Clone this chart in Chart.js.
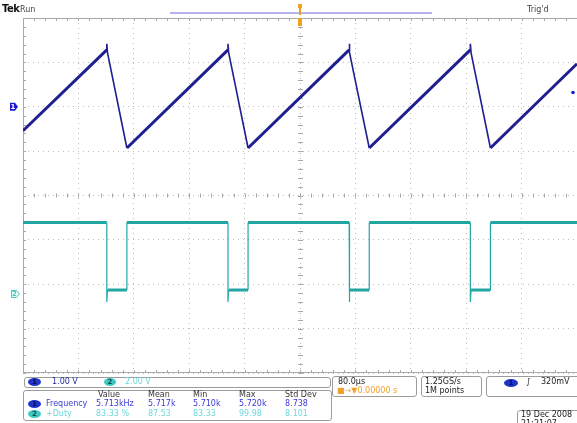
<!DOCTYPE html>
<html>
<head>
<meta charset="utf-8">
<script src="https://cdn.jsdelivr.net/npm/chart.js@4/dist/chart.umd.min.js"></script>
<style>
  html, body { margin: 0; padding: 0; background: #fff; }
  #wrap { position: relative; width: 577px; height: 423px; overflow: hidden;
          font-family: "DejaVu Sans", sans-serif; font-size: 8px; color: #333; }
  #scope { position: absolute; left: 0; top: 0; }
  .t { position: absolute; white-space: nowrap; line-height: 10px; }
  .box { position: absolute; border: 1px solid #9c9c9c; border-radius: 3px; box-sizing: border-box; }
  .ov { position: absolute; border-radius: 50%; font-size: 7px; line-height: 8px; text-align: center; font-weight: bold; }
  .c1 { background: #1d35c8; color: #0a0a60; }
  .c2 { background: #3ec8c4; color: #0b5050; }
</style>
</head>
<body>
<div id="wrap">
  <canvas id="scope" width="577" height="423"></canvas>

  <!-- status line -->
  <div class="t" style="left:2px;top:4px;font-size:10px;font-weight:bold;color:#111;letter-spacing:-0.5px">Tek</div>
  <div class="t" style="left:20px;top:5px;color:#444">Run</div>
  <div class="t" style="left:527px;top:5px;color:#444">Trig'd</div>

  <!-- vertical scale readout -->
  <div class="box" style="left:24px;top:377px;width:307px;height:11px"></div>
  <div class="ov c1" style="left:28px;top:378px;width:13px;height:8px">1</div>
  <div class="t" style="left:52px;top:377px;color:#1f2a9c">1.00 V</div>
  <div class="ov c2" style="left:104px;top:378px;width:12px;height:8px">2</div>
  <div class="t" style="left:125px;top:377px;color:#6fd6d6">2.00 V</div>

  <!-- measurement table -->
  <div class="box" style="left:23px;top:390px;width:309px;height:31px"></div>
  <div class="t" style="left:98px;top:390px">Value</div>
  <div class="t" style="left:148px;top:390px">Mean</div>
  <div class="t" style="left:193px;top:390px">Min</div>
  <div class="t" style="left:239px;top:390px">Max</div>
  <div class="t" style="left:285px;top:390px">Std Dev</div>

  <div class="ov c1" style="left:28px;top:400px;width:13px;height:8px">1</div>
  <div class="t" style="left:46px;top:399px;color:#3a3ad6">Frequency</div>
  <div class="t" style="left:96px;top:399px;color:#3a3ad6">5.713kHz</div>
  <div class="t" style="left:148px;top:399px;color:#3a3ad6">5.717k</div>
  <div class="t" style="left:193px;top:399px;color:#3a3ad6">5.710k</div>
  <div class="t" style="left:239px;top:399px;color:#3a3ad6">5.720k</div>
  <div class="t" style="left:285px;top:399px;color:#3a3ad6">8.738</div>

  <div class="ov c2" style="left:28px;top:410px;width:13px;height:8px">2</div>
  <div class="t" style="left:46px;top:409px;color:#6ed8dc">+Duty</div>
  <div class="t" style="left:96px;top:409px;color:#6ed8dc">83.33 %</div>
  <div class="t" style="left:148px;top:409px;color:#6ed8dc">87.53</div>
  <div class="t" style="left:193px;top:409px;color:#6ed8dc">83.33</div>
  <div class="t" style="left:239px;top:409px;color:#6ed8dc">99.98</div>
  <div class="t" style="left:285px;top:409px;color:#6ed8dc">8.101</div>

  <!-- horizontal / acquisition / trigger readouts -->
  <div class="box" style="left:332px;top:376px;width:85px;height:21px"></div>
  <div class="t" style="left:338px;top:377px;color:#222">80.0µs</div>
  <div class="t" style="left:337px;top:386px;color:#f0a028">&#9632;&#8594;&#9660;0.00000 s</div>

  <div class="box" style="left:421px;top:376px;width:61px;height:21px"></div>
  <div class="t" style="left:425px;top:377px;color:#222">1.25GS/s</div>
  <div class="t" style="left:425px;top:386px;color:#222">1M points</div>

  <div class="box" style="left:486px;top:376px;width:100px;height:21px"></div>
  <div class="ov c1" style="left:504px;top:379px;width:14px;height:8px">1</div>
  <div class="t" style="left:526px;top:377px;color:#222;font-style:italic">&#8747;</div>
  <div class="t" style="left:541px;top:377px;color:#222">320mV</div>

  <div class="box" style="left:517px;top:410px;width:70px;height:22px"></div>
  <div class="t" style="left:521px;top:410px;color:#222">19 Dec 2008</div>
  <div class="t" style="left:521px;top:419px;color:#222">21:21:07</div>
</div>

<script>
// Horizontal: 80 µs/div, 10 divisions, trigger at centre.
const timeMin = -400, timeMax = 400, timePerDiv = 80;

// CH1 (1.00 V/div): sawtooth corner points, time in µs, level in V.
const ch1Time  = [-400, -279, -279, -278, -250, -104, -104, -103, -75,
                  71, 71, 72, 100, 246, 246, 247, 275, 400];
const ch1Volts = [-0.54, 1.28, 1.42, 1.22, -0.93, 1.28, 1.42, 1.22, -0.93,
                  1.28, 1.42, 1.22, -0.93, 1.28, 1.42, 1.22, -0.93, 0.97];

// CH2 (2.00 V/div): gate pulse corner points.
const ch2Time  = [-400, -279, -279, -278, -250, -250, -104, -104, -103, -75, -75,
                  71, 71, 72, 100, 100, 246, 246, 247, 275, 275, 400];
const ch2Volts = [3.22, 3.22, -0.36, 0.18, 0.18, 3.22, 3.22, -0.36, 0.18, 0.18, 3.22,
                  3.22, -0.36, 0.18, 0.18, 3.22, 3.22, -0.36, 0.18, 0.18, 3.22, 3.22];

// Vertical windows: 8 divisions each, offsets put each ground marker in place.
const ch1Range = [-6, 2];
const ch2Range = [-3.56, 12.44];
const trigLevel = 0.32;

const pts = (xs, ys) => xs.map((x, i) => ({ x, y: ys[i] }));

const graticule = {
  id: 'graticule',
  beforeDatasetsDraw(chart) {
    const { ctx, chartArea: a, scales } = chart;
    const x = scales.x, y = scales.y1;
    const cx = x.getPixelForValue(0), cy = y.getPixelForValue(-2);
    const divX = (a.right - a.left) / 10, divY = (a.bottom - a.top) / 8;
    ctx.save();
    ctx.strokeStyle = '#a8a8a8';
    ctx.lineWidth = 1;
    ctx.beginPath();
    // frame
    ctx.moveTo(a.left, a.top + 0.5); ctx.lineTo(a.right, a.top + 0.5);
    ctx.moveTo(a.left, a.bottom - 0.5); ctx.lineTo(a.right, a.bottom - 0.5);
    ctx.moveTo(a.left + 0.5, a.top); ctx.lineTo(a.left + 0.5, a.bottom);
    // minor ticks, 5 per division
    for (let i = 0; i <= 50; i++) {
      const px = Math.round(a.left + i * divX / 5) + 0.5;
      ctx.moveTo(px, cy - 2); ctx.lineTo(px, cy + 2);
      ctx.moveTo(px, a.top); ctx.lineTo(px, a.top + 3);
      ctx.moveTo(px, a.bottom); ctx.lineTo(px, a.bottom - 3);
    }
    for (let i = 0; i <= 40; i++) {
      const py = Math.round(a.top + i * divY / 5) + 0.5;
      ctx.moveTo(cx - 2, py); ctx.lineTo(cx + 3, py);
      ctx.moveTo(a.left, py); ctx.lineTo(a.left + 3, py);
    }
    ctx.stroke();
    ctx.restore();
  },
  afterDraw(chart) {
    const { ctx, chartArea: a, scales } = chart;
    const g1 = scales.y1.getPixelForValue(0);
    const g2 = scales.y2.getPixelForValue(0);
    const tl = scales.y1.getPixelForValue(trigLevel);
    const tx = scales.x.getPixelForValue(0);
    ctx.save();
    // record-view bar and trigger position marker
    ctx.fillStyle = '#b4b4ea';
    ctx.fillRect(170, 12, 262, 2);
    ctx.fillStyle = '#f0a020';
    ctx.fillRect(tx - 2, 4, 4, 4);
    ctx.fillRect(tx - 1, 8, 2, 7);
    ctx.fillRect(tx - 2, 18, 4, 8);
    // CH1 ground marker
    ctx.fillStyle = '#1a1ad6';
    ctx.beginPath();
    ctx.moveTo(10, g1 - 4); ctx.lineTo(15, g1 - 4); ctx.lineTo(18, g1);
    ctx.lineTo(15, g1 + 4); ctx.lineTo(10, g1 + 4); ctx.closePath(); ctx.fill();
    ctx.fillStyle = '#fff';
    ctx.font = 'bold 7px "DejaVu Sans"';
    ctx.textAlign = 'center'; ctx.textBaseline = 'middle';
    ctx.fillText('1', 13, g1 + 0.5);
    // CH2 ground marker
    ctx.strokeStyle = '#3ec8c4'; ctx.lineWidth = 1;
    ctx.beginPath();
    ctx.moveTo(11.5, g2 - 3.5); ctx.lineTo(16.5, g2 - 3.5); ctx.lineTo(19.5, g2);
    ctx.lineTo(16.5, g2 + 3.5); ctx.lineTo(11.5, g2 + 3.5); ctx.closePath(); ctx.stroke();
    ctx.fillStyle = '#3ec8c4';
    ctx.fillText('2', 14.5, g2 + 0.5);
    // trigger level dot
    ctx.fillStyle = '#1a1ad6';
    ctx.beginPath(); ctx.arc(a.right - 4, tl, 1.8, 0, Math.PI * 2); ctx.fill();
    ctx.restore();
  }
};

const gridStyle = { color: '#bcbcbc', drawTicks: false, lineWidth: 1 };

new Chart(document.getElementById('scope'), {
  type: 'line',
  data: {
    datasets: [
      {
        label: 'CH1',
        data: pts(ch1Time, ch1Volts),
        yAxisID: 'y1',
        borderColor: '#1f1f90',
        borderWidth: 3,
        pointRadius: 0,
        tension: 0,
        segment: {
          borderWidth: c => (c.p1.parsed.y < c.p0.parsed.y || c.p1.parsed.x - c.p0.parsed.x < 2) ? 1.6 : 3
        }
      },
      {
        label: 'CH2',
        data: pts(ch2Time, ch2Volts),
        yAxisID: 'y2',
        borderColor: '#22a6a2',
        borderWidth: 3,
        pointRadius: 0,
        tension: 0,
        segment: {
          borderWidth: c => (c.p1.parsed.x - c.p0.parsed.x < 2) ? 1.2 : 3
        }
      }
    ]
  },
  options: {
    responsive: false,
    animation: false,
    devicePixelRatio: 1,
    layout: { padding: { left: 23, top: 18, right: 0, bottom: 50 } },
    plugins: { legend: { display: false }, tooltip: { enabled: false } },
    scales: {
      x: {
        type: 'linear', min: timeMin, max: timeMax,
        ticks: { display: false, stepSize: timePerDiv },
        grid: gridStyle,
        border: { display: false, dash: [1, 4] }
      },
      y1: {
        type: 'linear', position: 'left', min: ch1Range[0], max: ch1Range[1],
        ticks: { display: false, stepSize: 1 },
        grid: gridStyle,
        border: { display: false, dash: [1, 4] }
      },
      y2: {
        type: 'linear', position: 'right', min: ch2Range[0], max: ch2Range[1],
        display: false
      }
    }
  },
  plugins: [graticule]
});
</script>
</body>
</html>
